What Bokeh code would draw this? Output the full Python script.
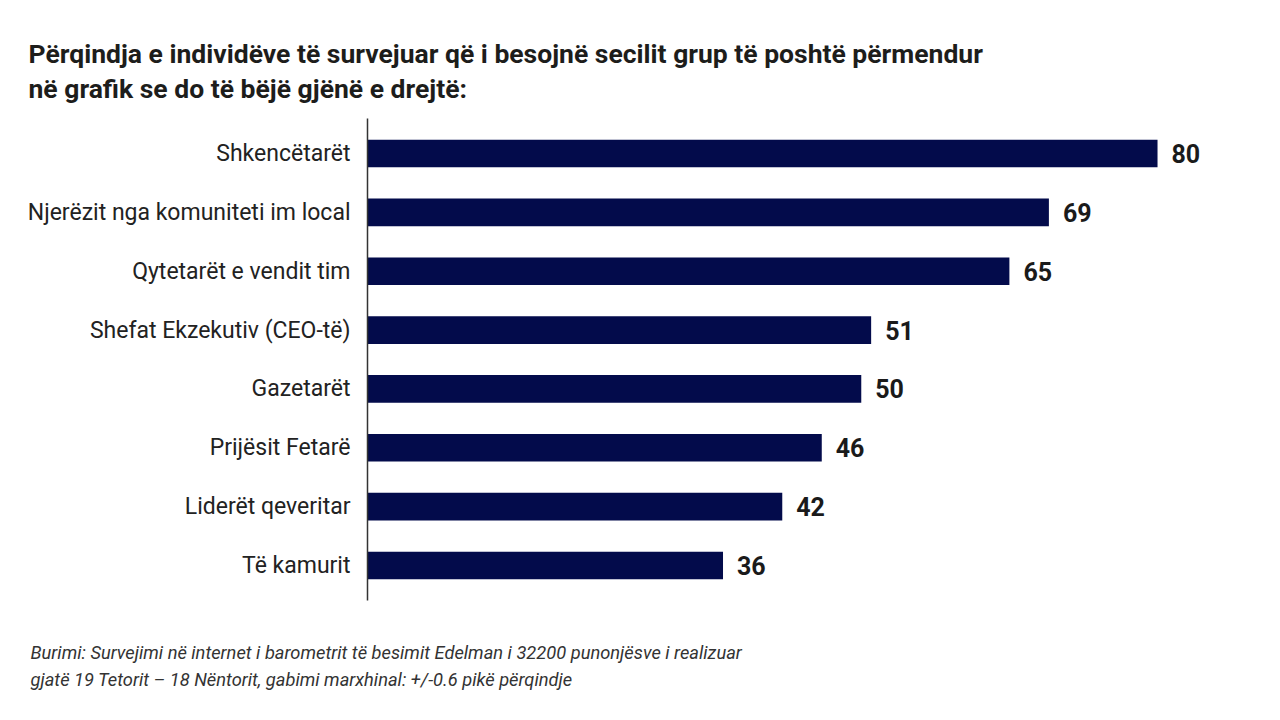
from bokeh.plotting import figure
from bokeh.models import ColumnDataSource, FactorRange, Title
from bokeh.core.properties import value
from bokeh.embed import file_html
from bokeh.resources import INLINE

categories = ["Shkencëtarët", "Njerëzit nga komuniteti im local", "Qytetarët e vendit tim",
              "Shefat Ekzekutiv (CEO-të)", "Gazetarët", "Prijësit Fetarë",
              "Liderët qeveritar", "Të kamurit"]
values = [80, 69, 65, 51, 50, 46, 42, 36]
value_labels = [str(v) for v in values]

title_lines = ["Përqindja e individëve të survejuar që i besojnë secilit grup të poshtë përmendur",
               "në grafik se do të bëjë gjënë e drejtë:"]
source_lines = ["Burimi: Survejimi në internet i barometrit të besimit Edelman i 32200 punonjësve i realizuar",
                "gjatë 19 Tetorit – 18 Nëntorit, gabimi marxhinal: +/-0.6 pikë përqindje"]

FONT = "Roboto"
BAR = "#030b4b"

src = ColumnDataSource(dict(cat=categories, val=values, lab=value_labels))

p = figure(width=1264, height=704, output_backend="svg", toolbar_location=None,
           y_range=FactorRange(factors=categories[::-1], range_padding=0.0945,
                               range_padding_units="absolute"),
           x_range=(0, 89.82),
           min_border_left=367, min_border_right=10, min_border_top=118, min_border_bottom=104)

p.hbar(y="cat", right="val", height=0.47, source=src, color=BAR, line_color=None)
p.text(x="val", y="cat", text="lab", source=src, x_offset=14, text_baseline="middle",
       text_font=value(FONT), text_font_style="bold", text_font_size="25px", text_color="#1a1a1a")

p.xaxis.visible = False
p.xgrid.visible = False
p.ygrid.visible = False
p.outline_line_color = None
p.yaxis.axis_line_color = "#333333"
p.yaxis.axis_line_width = 1.5
p.yaxis.major_tick_line_color = None
p.yaxis.minor_tick_line_color = None
p.yaxis.major_label_standoff = 11
p.yaxis.major_label_text_font = FONT
p.yaxis.major_label_text_font_size = "23px"
p.yaxis.major_label_text_color = "#222222"

p.add_layout(Title(text="\n".join(title_lines), align="left", offset=-339, standoff=28,
                   text_font=FONT, text_font_style="bold", text_font_size="26.5px",
                   text_line_height=1.13, text_color="#1d1d1b"), "above")
# empty spacer between the frame and the source note
p.add_layout(Title(text=" ", align="left", standoff=13, text_font=FONT,
                   text_font_size="20px", text_line_height=1.0), "below")
p.add_layout(Title(text="\n".join(source_lines), align="left", offset=-337, standoff=0,
                   text_font=FONT, text_font_style="italic", text_font_size="18.3px",
                   text_line_height=1.33, text_color="#333333"), "below")

open("out.html", "w").write(file_html(p, INLINE))
